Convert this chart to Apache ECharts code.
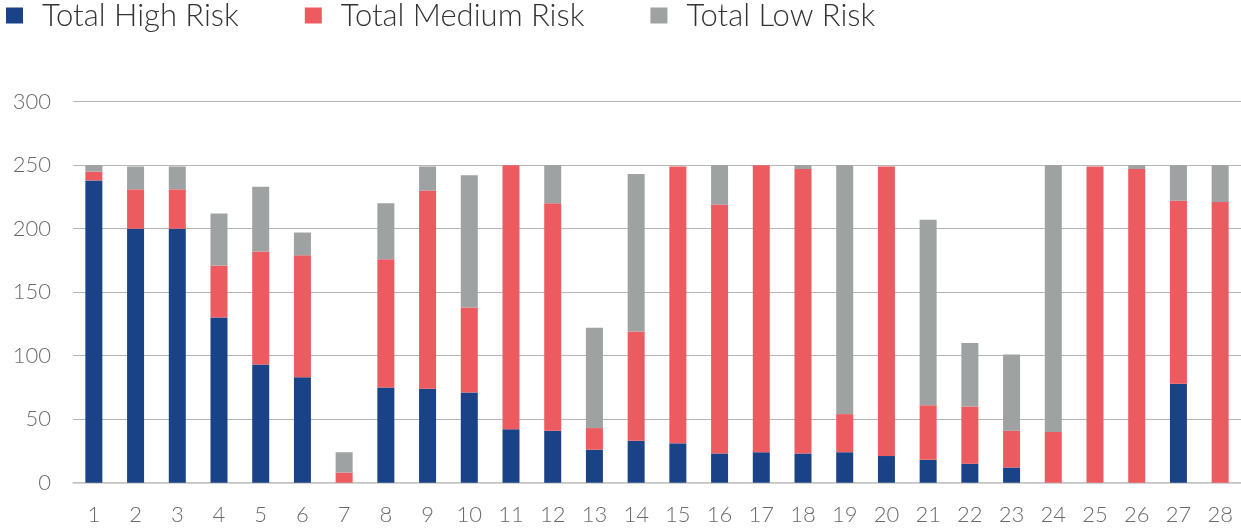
<!DOCTYPE html>
<html>
<head>
<meta charset="utf-8">
<script src="https://cdn.jsdelivr.net/npm/echarts@6/dist/echarts.min.js"></script>
<style>
html,body{margin:0;padding:0;background:#fff;}
#chart{width:1241px;height:529px;}
</style>
</head>
<body>
<div id="chart"></div>
<script>
var categories = ['1','2','3','4','5','6','7','8','9','10','11','12','13','14','15','16','17','18','19','20','21','22','23','24','25','26','27','28'];
var seriesNames = ['Total High Risk','Total Medium Risk','Total Low Risk'];
var highRisk   = [238,200,200,130,93,83,0,75,74,71,42,41,26,33,31,23,24,23,24,21,18,15,12,0,0,0,78,0];
var mediumRisk = [7,31,31,41,89,96,8,101,156,67,208,179,17,86,218,196,226,224,30,228,43,45,29,40,249,247,144,221];
var lowRisk    = [5,18,18,41,51,18,16,44,19,104,0,30,79,124,0,31,0,3,196,0,146,50,60,210,0,3,28,29];
var yTicks = [0,50,100,150,200,250,300];
var colors = ['#1a4387','#eb5b5f','#9ea2a2'];

var font = 'Lato';
var chart = echarts.init(document.getElementById('chart'), null, {renderer:'canvas'});
function mk(name, data, color){
  return {
    name: name, type: 'bar', stack: 'total', data: data,
    barWidth: 17, itemStyle: {color: color}, emphasis: {disabled: true}
  };
}
chart.setOption({
  animation: false,
  textStyle: {fontFamily: font},
  legend: {
    left: 6, top: 0, padding: 0,
    itemWidth: 17, itemHeight: 16, itemGap: 66,
    icon: 'rect',
    textStyle: {fontFamily: font, fontWeight: 300, fontSize: 31, color: '#333', padding: [0,0,0,14]},
    data: seriesNames
  },
  grid: {left: 73, right: -4, top: 101.7, bottom: 46.3, containLabel: false},
  xAxis: {
    type: 'category', data: categories,
    axisLine: {show: true, lineStyle: {color: '#c6c6c6', width: 1.5}},
    axisTick: {show: false},
    axisLabel: {fontFamily: font, fontWeight: 300, fontSize: 22, color: '#6b6b6b', margin: 21}
  },
  yAxis: {
    type: 'value', min: yTicks[0], max: yTicks[yTicks.length-1], interval: 50,
    axisLine: {show: false}, axisTick: {show: false},
    splitLine: {lineStyle: {color: '#b5b5b5', width: 1}},
    axisLabel: {fontFamily: font, fontWeight: 300, fontSize: 22, color: '#6b6b6b', margin: 22}
  },
  series: [
    mk(seriesNames[0], highRisk, colors[0]),
    mk(seriesNames[1], mediumRisk, colors[1]),
    mk(seriesNames[2], lowRisk, colors[2])
  ]
});
</script>
</body>
</html>
